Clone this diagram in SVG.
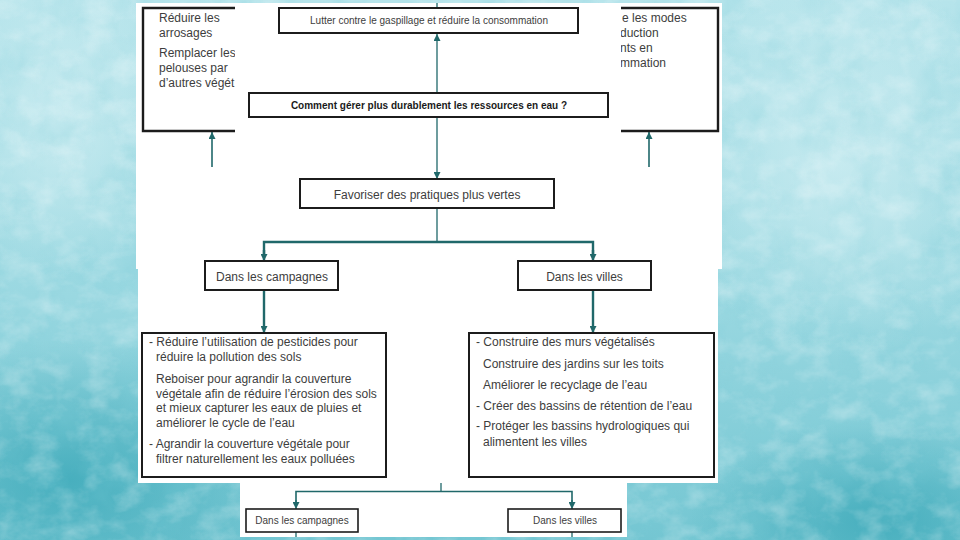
<svg xmlns="http://www.w3.org/2000/svg" width="960" height="540" viewBox="0 0 960 540">
  <defs>
    <style>
      .box { fill: #ffffff; stroke: #1c1c1c; stroke-width: 2; }
      .open { fill: none; stroke: #1c1c1c; stroke-width: 2.4; }
      .small { fill: #ffffff; stroke: #1c1c1c; stroke-width: 1.6; }
      .t { font-family: "Liberation Sans", Arial, sans-serif; font-size: 12px; fill: #3d3d3d; }
      .t10 { font-family: "Liberation Sans", Arial, sans-serif; font-size: 10px; fill: #3d3d3d; }
      .tb { font-family: "Liberation Sans", Arial, sans-serif; font-size: 10px; font-weight: bold; fill: #1a1a1a; }
      .c { text-anchor: middle; }
      .ln { fill: none; stroke: #20686a; stroke-width: 1.3; }
      .br { fill: none; stroke: #20686a; stroke-width: 2.4; }
      .panel { fill: #ffffff; }
    </style>
    <marker id="ah" viewBox="0 0 7 7" refX="7" refY="3.5" markerWidth="7" markerHeight="7" markerUnits="userSpaceOnUse" orient="auto">
      <path d="M0,0 L7,3.5 L0,7 z" fill="#20686a"/>
    </marker>
    <linearGradient id="bg" x1="0" y1="0" x2="0" y2="1">
      <stop offset="0" stop-color="#b6e4eb"/>
      <stop offset="0.55" stop-color="#9ad8e1"/>
      <stop offset="1" stop-color="#74c6d2"/>
    </linearGradient>
    <radialGradient id="darkL" cx="0.5" cy="0.5" r="0.5">
      <stop offset="0" stop-color="#3aa8b8" stop-opacity="0.8"/>
      <stop offset="1" stop-color="#3aa8b8" stop-opacity="0"/>
    </radialGradient>
    <radialGradient id="lightR" cx="0.5" cy="0.5" r="0.5">
      <stop offset="0" stop-color="#d4f0f4" stop-opacity="0.7"/>
      <stop offset="1" stop-color="#d4f0f4" stop-opacity="0"/>
    </radialGradient>
    <filter id="noiseW" x="0" y="0" width="100%" height="100%">
      <feTurbulence type="fractalNoise" baseFrequency="0.035 0.05" numOctaves="4" seed="4"/>
      <feColorMatrix type="matrix" values="0 0 0 0 1  0 0 0 0 1  0 0 0 0 1  1.3 0 0 0 -0.55"/>
    </filter>
    <filter id="noiseD" x="0" y="0" width="100%" height="100%">
      <feTurbulence type="fractalNoise" baseFrequency="0.025 0.02" numOctaves="4" seed="9"/>
      <feColorMatrix type="matrix" values="0 0 0 0 0.2  0 0 0 0 0.6  0 0 0 0 0.68  1.2 0 0 0 -0.55"/>
    </filter>
    <clipPath id="clipL"><rect x="140" y="5" width="95" height="126"/></clipPath>
    <clipPath id="clipR"><rect x="621" y="5" width="96" height="126"/></clipPath>
  </defs>

  <!-- background -->
  <rect x="0" y="0" width="960" height="540" fill="url(#bg)"/>
  <ellipse cx="70" cy="480" rx="230" ry="140" fill="url(#darkL)"/>
  <ellipse cx="880" cy="520" rx="190" ry="100" fill="url(#darkL)"/>
  <ellipse cx="840" cy="160" rx="170" ry="200" fill="url(#lightR)"/>
  <ellipse cx="60" cy="120" rx="120" ry="160" fill="url(#lightR)"/>
  <rect x="0" y="0" width="960" height="540" filter="url(#noiseD)" opacity="0.5"/>
  <rect x="0" y="0" width="960" height="540" filter="url(#noiseW)" opacity="0.45"/>

  <!-- white panels -->
  <rect class="panel" x="136" y="3" width="586" height="266"/>
  <rect class="panel" x="138" y="268" width="580" height="215"/>
  <rect class="panel" x="240" y="483" width="387" height="54"/>

  <!-- connectors -->
  <g id="connectors">
    <line class="ln" x1="437" y1="3" x2="437" y2="8"/>
    <line class="ln" x1="437" y1="93" x2="437" y2="34" marker-end="url(#ah)"/>
    <line class="ln" x1="437" y1="118" x2="437" y2="179" marker-end="url(#ah)"/>
    <line class="ln" x1="212" y1="167" x2="212" y2="132" marker-end="url(#ah)" style="stroke-width:1.6"/>
    <line class="ln" x1="649" y1="167" x2="649" y2="132" marker-end="url(#ah)" style="stroke-width:1.6"/>
    <line class="ln" x1="437" y1="209" x2="437" y2="242"/>
    <path class="br" d="M264,254 V242 H593 V254"/>
    <line class="br" x1="264" y1="250" x2="264" y2="261" marker-end="url(#ah)"/>
    <line class="br" x1="593" y1="250" x2="593" y2="261" marker-end="url(#ah)"/>
    <line class="br" x1="264" y1="291" x2="264" y2="333" marker-end="url(#ah)"/>
    <line class="br" x1="593" y1="291" x2="593" y2="333" marker-end="url(#ah)"/>
    <line class="ln" x1="441" y1="483" x2="441" y2="491.5"/>
    <path class="ln" d="M296,502 V491.5 H572 V502" style="stroke-width:1.6"/>
    <line class="ln" x1="296" y1="500" x2="296" y2="509" marker-end="url(#ah)"/>
    <line class="ln" x1="572" y1="500" x2="572" y2="509" marker-end="url(#ah)"/>
    <line class="ln" x1="296" y1="532" x2="296" y2="537"/>
    <line class="ln" x1="572" y1="532" x2="572" y2="537"/>
  </g>

  <!-- partial top-left node -->
  <g id="node-arrosages">
    <path class="open" d="M235,8 H143 V131 H235"/>
    <g clip-path="url(#clipL)">
      <text class="t" x="159" y="22">Réduire les</text>
      <text class="t" x="159" y="36.5">arrosages</text>
      <text class="t" x="159" y="56.5">Remplacer les</text>
      <text class="t" x="159" y="71.5">pelouses par</text>
      <text class="t" x="159" y="86.5">d’autres végét</text>
    </g>
  </g>

  <!-- partial top-right node -->
  <g id="node-modes">
    <path class="open" d="M621,8 H718 V131 H621"/>
    <g clip-path="url(#clipR)">
      <text class="t" x="622" y="22">e les modes</text>
      <text class="t" x="620" y="36.5">duction</text>
      <text class="t" x="620" y="51.5">nts en</text>
      <text class="t" x="620" y="66.5">mmation</text>
    </g>
  </g>

  <g id="node-lutter">
    <rect class="box" x="279" y="8" width="299" height="25"/>
    <text class="t10 c" x="429" y="24">Lutter contre le gaspillage et réduire la consommation</text>
  </g>

  <g id="node-question">
    <rect class="box" x="249" y="93" width="359" height="24"/>
    <text class="tb c" x="429" y="109">Comment gérer plus durablement les ressources en eau ?</text>
  </g>

  <g id="node-favoriser">
    <rect class="box" x="300" y="179" width="254" height="29"/>
    <text class="t c" x="427" y="198.5">Favoriser des pratiques plus vertes</text>
  </g>

  <g id="node-campagnes">
    <rect class="box" x="205" y="261" width="133" height="29"/>
    <text class="t c" x="272" y="280.5">Dans les campagnes</text>
  </g>

  <g id="node-villes">
    <rect class="box" x="518" y="261" width="133" height="29"/>
    <text class="t c" x="584.5" y="280.5">Dans les villes</text>
  </g>

  <g id="node-actions-campagnes">
    <rect class="box" x="142" y="333" width="244" height="144"/>
    <text class="t" x="149" y="345.5">- Réduire l’utilisation de pesticides pour</text>
    <text class="t" x="156" y="361">réduire la pollution des sols</text>
    <text class="t" x="156" y="383">Reboiser pour agrandir la couverture</text>
    <text class="t" x="156" y="397.5">végétale afin de réduire l’érosion des sols</text>
    <text class="t" x="156" y="412">et mieux capturer les eaux de pluies et</text>
    <text class="t" x="156" y="426.5">améliorer le cycle de l’eau</text>
    <text class="t" x="149" y="448">- Agrandir la couverture végétale pour</text>
    <text class="t" x="156" y="463">filtrer naturellement les eaux polluées</text>
  </g>

  <g id="node-actions-villes">
    <rect class="box" x="469" y="333" width="245" height="144"/>
    <text class="t" x="476" y="345.5">- Construire des murs végétalisés</text>
    <text class="t" x="483" y="367.5">Construire des jardins sur les toits</text>
    <text class="t" x="483" y="388.5">Améliorer le recyclage de l’eau</text>
    <text class="t" x="476" y="409.5">- Créer des bassins de rétention de l’eau</text>
    <text class="t" x="476" y="430">- Protéger les bassins hydrologiques qui</text>
    <text class="t" x="483" y="445.5">alimentent les villes</text>
  </g>

  <g id="node-campagnes-2">
    <rect class="small" x="246" y="509" width="112" height="23"/>
    <text class="t10 c" x="302" y="524">Dans les campagnes</text>
  </g>

  <g id="node-villes-2">
    <rect class="small" x="508" y="509" width="113" height="23"/>
    <text class="t10 c" x="565" y="524">Dans les villes</text>
  </g>
</svg>
